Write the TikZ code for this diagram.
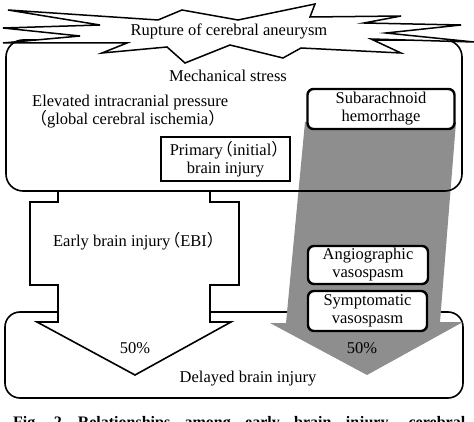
\documentclass[tikz,border=0pt]{standalone}
\usepackage{fontspec}
\setmainfont{Liberation Serif}
\newfontfamily\cjkfont{Noto Sans CJK JP}
\newcommand{\jlp}{\makebox[0.6em][r]{\cjkfont （}}
\newcommand{\jrp}{\makebox[0.6em][l]{\cjkfont ）}}
\definecolor{arrowgray}{RGB}{142,142,142}
\begin{document}
\begin{tikzpicture}[x=1pt,y=-1pt,
  every node/.style={font=\fontsize{16.5}{18}\selectfont, inner sep=0pt},
  outline/.style={line width=1.6pt},
  softbox/.style={draw, line width=2.4pt, rounded corners=6pt, fill=white, align=center},
  plainbox/.style={draw, line width=1.8pt, fill=white, align=center},
  txt/.style={anchor=base},
]
\useasboundingbox (0,0) rectangle (474,422);
\clip (0,0) rectangle (474,422);
% bottom box
\draw[outline, rounded corners=15pt] (5,312) rectangle (463,398);
% left (white) arrow
\draw[outline, fill=white] (58,191) -- (58,202) -- (30,202) -- (30,285) -- (58,285) -- (58,322) -- (37,322) -- (135,375) -- (231,322) -- (210,322) -- (210,285) -- (239,285) -- (239,202) -- (210,202) -- (210,191) -- cycle;
% right (gray) arrow
\fill[arrowgray] (305,122) -- (286,323) -- (270,323) -- (367,375) -- (463,322) -- (440,322) -- (456,122) -- cycle;
% top box
\draw[outline, rounded corners=17pt] (6,40) rectangle (462,191);
% starburst
\draw[line width=1.5pt, fill=white, line join=miter]
  (8,10) -- (158,20) -- (182,10) -- (238,20) -- (315,4) -- (310,17) -- (401,16)
  -- (364,23) -- (461,25) -- (386,33) -- (474,42) -- (371,39) -- (401,53)
  -- (301,48) -- (283,58) -- (230,45) -- (185,63) -- (167,47) -- (102,53)
  -- (127,43) -- (3,43) -- (80,36) -- (3,28) -- (100,25) -- cycle;
\node[txt] (rupture) at (229,36) {Rupture of cerebral aneurysm};
\node[txt] (mech) at (228,82) {Mechanical stress};
\node[align=left, anchor=north west] (icp) at (32,95) {Elevated intracranial pressure\\\hspace*{0.3em}\jlp global cerebral ischemia\jrp};
\node[softbox, minimum width=147pt, minimum height=40pt] (sah) at (381,109) {Subarachnoid\\hemorrhage};
\node[plainbox, minimum width=129pt, minimum height=44pt] (primary) at (225.5,159) {Primary\jlp initial\jrp\\brain injury};
\node[txt] (ebi) at (135,247) {Early brain injury\jlp EBI\jrp};
\node[softbox, minimum width=120pt, minimum height=38pt] (angio) at (368,265) {Angiographic\\vasospasm};
\node[softbox, minimum width=119pt, minimum height=40pt] (sympt) at (367.5,311) {Symptomatic\\vasospasm};
\node[txt] (pctl) at (135,353) {50\%};
\node[txt] (pctr) at (362,353) {50\%};
\node[txt] (delayed) at (248,382) {Delayed brain injury};
\node[anchor=base west, font=\fontsize{16}{18}\selectfont\bfseries] (caption) at (13,427) {\makebox[452pt][s]{Fig.~2\quad Relationships among early brain injury, cerebral}};
\end{tikzpicture}
\end{document}
